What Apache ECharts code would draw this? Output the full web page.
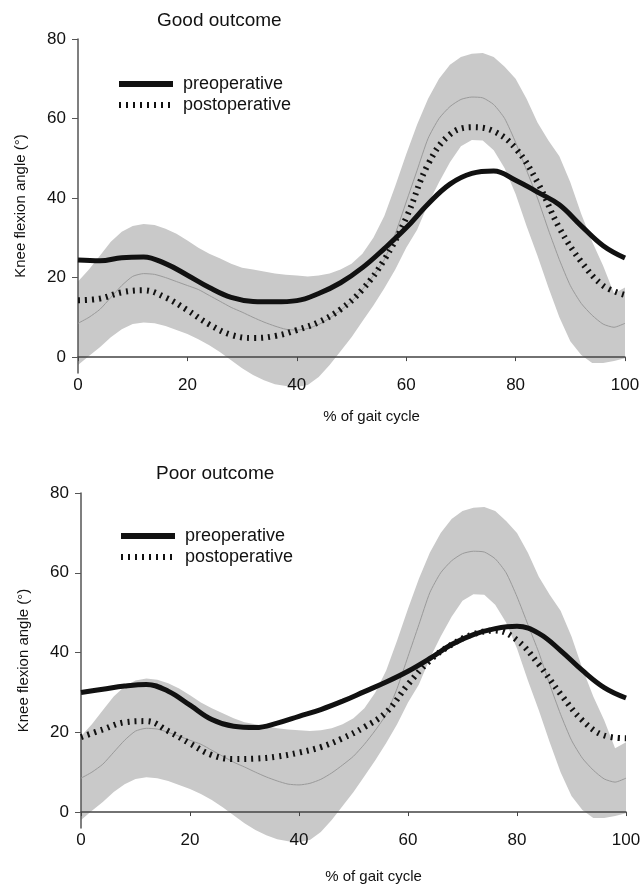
<!DOCTYPE html>
<html>
<head>
<meta charset="utf-8">
<script src="https://cdn.jsdelivr.net/npm/echarts@6/dist/echarts.min.js"></script>
<style>html,body{margin:0;padding:0;background:#fff;}#c{width:641px;height:884px;}</style>
</head>
<body>
<div id="c"></div>
<script>
// ---- data ----
const titles = ['Good outcome', 'Poor outcome'];
const seriesNames = ['preoperative', 'postoperative'];
const xTicks = [0, 20, 40, 60, 80, 100];
const yTicks = [0, 20, 40, 60, 80];
const xLabel = '% of gait cycle';
const yLabel = 'Knee flexion angle (°)';

// normal reference band (same in both panels)
const xNorm = [0,2,4,6,8,10,12,14,16,18,20,22,24,26,28,30,32,34,36,38,40,42,44,46,48,50,52,54,56,58,60,62,64,66,68,70,72,74,76,78,80,82,84,86,88,90,92,94,96,98,100];
const normLower = [-2,0.3,2.5,5,7,8.3,8.7,8.5,7.8,6.8,5.8,4.5,3,1.2,-0.8,-2.8,-4.5,-5.8,-6.8,-7.3,-7.5,-7,-5,-2,1.5,5,9,13,17.3,22,27.5,32,38.5,44,49,53,54.6,54.5,52,47.5,41,33,25.5,17.5,10,4,0.5,-1.5,-1.5,-1,-0.3];
const normMean = [8.5,10,12,15,18,20.3,21,20.8,20,19,18,17,15.5,14,12.5,11.3,10,8.8,7.8,7,6.8,7.2,8.2,9.8,11.8,14,17,20.5,24.5,31,39,47,55,60,63,64.8,65.4,65.2,63.5,60,54,47,40,32,24.5,18,13.5,10.5,8.3,7.5,8.5];
const normUpper = [19,22,25.5,29,31.5,33,33.5,33.2,32.3,31,29.3,27.5,26,24.8,23.5,22.5,22,21.5,21,20.7,20.5,20.3,20.5,21,22,23.5,26,30,35.5,43,51,58.5,65,70,73.5,75.5,76.3,76.5,75.5,73,70,65,59,54.5,50.5,44,36,29,23,16,17.5];

// patient curves
const xCurve = [0,4,8,12,16,20,24,28,32,36,40,44,48,52,56,60,64,68,72,76,80,84,88,92,96,100];
const goodPre  = [24.4,24.2,25,25.2,23.5,20.6,17.5,15,14,13.9,14.2,16,18.7,22.5,27.3,32.5,38.5,43.5,46.2,46.8,44.5,41.5,38.3,33,28,24.9];
const goodPost = [14.3,14.7,16.3,16.8,15,11.8,8.2,5.6,4.8,5.3,6.8,8.8,12,17,24.5,35,48.5,56,57.8,56.8,52.5,44,32.5,24,18,15.6];
const poorPre  = [30,30.8,31.6,32,30.3,26.8,23.2,21.5,21.2,22.3,24,25.7,27.8,30.2,32.6,35.3,38.5,42,44.5,46,46.6,44.8,40.5,35.5,31.2,28.6];
const poorPost = [18.8,20.7,22.5,22.8,20.3,17.2,14.3,13.3,13.4,13.9,14.9,16.3,18.5,21.3,25,32,38,42,44.6,45.5,43.1,37,29.6,23,19.2,18.5];

const panels = [{pre: goodPre, post: goodPost}, {pre: poorPre, post: poorPost}];

// ---- layout ----
const FONT = "'Liberation Sans', Arial, Helvetica, sans-serif";
const grids = [
  {left: 78, right: 16, top: 39, height: 334},
  {left: 81, right: 15, top: 493, height: 335}
];
const titlePos = [{left: 152, top: 6}, {left: 151, top: 459}];
const legendPos = [{left: 116, top: 75}, {left: 118, top: 527}];
const xNameGaps = [36, 41];

const pair = (xs, ys) => xs.map((x, i) => [x, ys[i]]);

function bandRenderer(params, api) {
  const pts = [];
  for (let k = 0; k < xNorm.length; k++) pts.push(api.coord([xNorm[k], normUpper[k]]));
  for (let k = xNorm.length - 1; k >= 0; k--) pts.push(api.coord([xNorm[k], normLower[k]]));
  return {type: 'polygon', shape: {points: pts}, style: {fill: '#c9c9c9', stroke: null}, silent: true};
}

const option = {
  animation: false,
  backgroundColor: '#fff',
  textStyle: {fontFamily: FONT},
  title: titles.map((t, i) => ({
    text: t, left: titlePos[i].left, top: titlePos[i].top,
    textStyle: {fontFamily: FONT, fontSize: 19, fontWeight: 'normal', color: '#111'}
  })),
  legend: legendPos.map((p, i) => ({
    left: p.left, top: p.top, orient: 'vertical', padding: 0,
    itemWidth: 54, itemHeight: 14, itemGap: 3,
    selectedMode: false,
    textStyle: {fontFamily: FONT, fontSize: 18, color: '#111', padding: [0, 0, 0, 5]},
    data: [
      {name: seriesNames[0], itemStyle: {color: 'rgba(0,0,0,0)', borderWidth: 0}, lineStyle: {width: 6, color: '#111', type: 'solid'}},
      {name: seriesNames[1], itemStyle: {color: 'rgba(0,0,0,0)', borderWidth: 0}, lineStyle: {width: 6, color: '#111', type: [2, 5]}}
    ]
  })),
  grid: grids.map(g => Object.assign({containLabel: false, outerBoundsMode: 'none'}, g)),
  xAxis: grids.map((g, i) => ({
    gridIndex: i, type: 'value', min: 0, max: 100, interval: 20, z: 5,
    name: xLabel, nameLocation: 'middle', nameGap: xNameGaps[i],
    nameTextStyle: {fontFamily: FONT, fontSize: 15, color: '#111', padding: [0, 0, 0, 40]},
    axisLine: {onZero: true, lineStyle: {color: '#444', width: 1.5}},
    axisTick: {show: true, length: 4, lineStyle: {color: '#444', width: 1}},
    axisLabel: {fontFamily: FONT, fontSize: 17, color: '#111', margin: 4},
    splitLine: {show: false}
  })),
  yAxis: grids.map((g, i) => ({
    gridIndex: i, type: 'value', min: -4, max: 80, z: 5,
    name: yLabel, nameLocation: 'middle', nameGap: 50,
    nameTextStyle: {fontFamily: FONT, fontSize: 15, color: '#111'},
    axisLine: {show: true, lineStyle: {color: '#555', width: 1.5}},
    axisTick: {show: true, length: 6, customValues: yTicks, lineStyle: {color: '#555', width: 1}},
    axisLabel: {fontFamily: FONT, fontSize: 17, color: '#111', margin: 12, customValues: yTicks},
    splitLine: {show: false}
  })),
  series: []
};

panels.forEach((p, i) => {
  option.series.push({
    name: 'normBand' + i, type: 'custom', xAxisIndex: i, yAxisIndex: i,
    coordinateSystem: 'cartesian2d', data: [[0, 0]], renderItem: bandRenderer,
    clip: false, silent: true, z: 1
  });
  option.series.push({
    name: 'normMean' + i, type: 'line', xAxisIndex: i, yAxisIndex: i,
    data: pair(xNorm, normMean), symbol: 'none', smooth: 0.2,
    lineStyle: {color: '#9a9a9a', width: 1}, silent: true, z: 6
  });
  option.series.push({
    name: seriesNames[1], type: 'line', xAxisIndex: i, yAxisIndex: i,
    data: pair(xCurve, p.post), symbol: 'none', smooth: 0.4,
    lineStyle: {color: '#111', width: 6, type: [2, 5]}, itemStyle: {color: '#111'}, z: 7
  });
  option.series.push({
    name: seriesNames[0], type: 'line', xAxisIndex: i, yAxisIndex: i,
    data: pair(xCurve, p.pre), symbol: 'none', smooth: 0.4,
    lineStyle: {color: '#111', width: 5}, itemStyle: {color: '#111'}, z: 8
  });
});

const chart = echarts.init(document.getElementById('c'), null, {renderer: 'canvas'});
chart.setOption(option);
</script>
</body>
</html>
